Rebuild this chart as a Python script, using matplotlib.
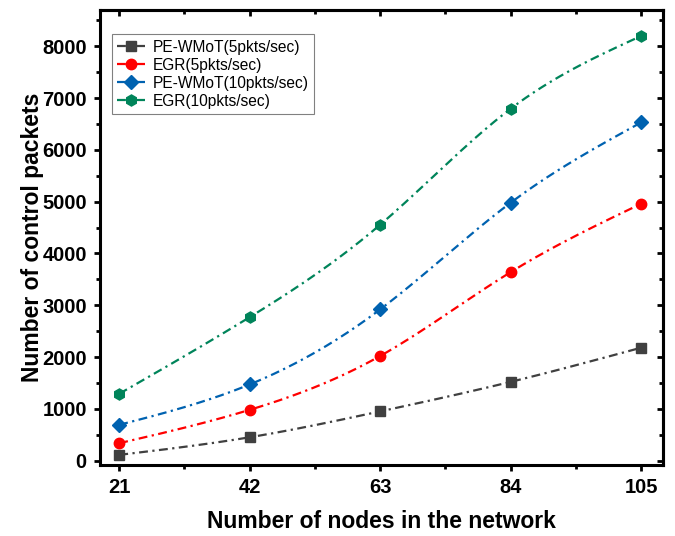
import numpy as np
import matplotlib.pyplot as plt
from matplotlib.ticker import MultipleLocator

plt.rcParams['font.family'] = ['Liberation Sans', 'DejaVu Sans']

nodes = [21, 42, 63, 84, 105]
pe_5 = [110, 450, 950, 1520, 2180]
egr_5 = [335, 980, 2020, 3640, 4960]
pe_10 = [690, 1470, 2920, 4980, 6530]
egr_10 = [1290, 2770, 4555, 6795, 8200]


def spline(x, y, n=200):
    # natural cubic spline, only used to draw the smooth connecting line
    x = np.asarray(x, float)
    y = np.asarray(y, float)
    k = len(x)
    h = np.diff(x)
    A = np.zeros((k, k))
    b = np.zeros(k)
    A[0, 0] = A[-1, -1] = 1
    for i in range(1, k - 1):
        A[i, i - 1] = h[i - 1]
        A[i, i] = 2 * (h[i - 1] + h[i])
        A[i, i + 1] = h[i]
        b[i] = 6 * ((y[i + 1] - y[i]) / h[i] - (y[i] - y[i - 1]) / h[i - 1])
    M = np.linalg.solve(A, b)
    xs = np.linspace(x[0], x[-1], n)
    idx = np.clip(np.searchsorted(x, xs) - 1, 0, k - 2)
    x0, x1 = x[idx], x[idx + 1]
    hh = x1 - x0
    t0, t1 = x1 - xs, xs - x0
    ys = (M[idx] * t0**3 + M[idx + 1] * t1**3) / (6 * hh) \
        + (y[idx] / hh - M[idx] * hh / 6) * t0 \
        + (y[idx + 1] / hh - M[idx + 1] * hh / 6) * t1
    return xs, ys


fig = plt.figure(figsize=(6.75, 5.36), dpi=100)
ax = fig.add_axes([0.1481, 0.1325, 0.8341, 0.8488])

series = [
    (pe_5, 'PE-WMoT(5pkts/sec)', '#404040', 's', 7),
    (egr_5, 'EGR(5pkts/sec)', '#ff0000', 'o', 7.5),
    (pe_10, 'PE-WMoT(10pkts/sec)', '#0062b0', 'D', 7),
    (egr_10, 'EGR(10pkts/sec)', '#00845a', 'h', 8),
]
ls = (0, (4, 2, 1, 2))
for vals, lab, col, mk, ms in series:
    xs, ys = spline(nodes, vals)
    ax.plot(xs, ys, color=col, ls=ls, lw=1.6)
    ax.plot(nodes, vals, ls='none', marker=mk, ms=ms, color=col, mec=col)
    ax.plot([], [], color=col, ls=ls, lw=1.6, marker=mk, ms=ms, label=lab)

ax.set_xlim(17.9, 108.5)
ax.set_ylim(-85, 8700)
ax.set_xticks(nodes)
ax.xaxis.set_minor_locator(MultipleLocator(10.5))
ax.yaxis.set_major_locator(MultipleLocator(1000))
ax.yaxis.set_minor_locator(MultipleLocator(500))

for s in ax.spines.values():
    s.set_linewidth(2.2)
ax.tick_params(which='major', direction='out', length=4.5, width=2, labelsize=14.5, pad=5)
ax.tick_params(which='minor', direction='out', length=3, width=2)
for t in ax.get_xticklabels() + ax.get_yticklabels():
    t.set_fontweight('bold')

top = ax.secondary_xaxis('top')
top.set_xticks(nodes)
top.xaxis.set_minor_locator(MultipleLocator(10.5))
top.tick_params(which='major', direction='in', length=4.5, width=2, labeltop=False)
top.tick_params(which='minor', direction='in', length=3, width=2)
right = ax.secondary_yaxis('right')
right.yaxis.set_major_locator(MultipleLocator(1000))
right.yaxis.set_minor_locator(MultipleLocator(500))
right.tick_params(which='major', direction='in', length=4.5, width=2, labelright=False)
right.tick_params(which='minor', direction='in', length=3, width=2)
top.spines['top'].set_linewidth(2.2)
right.spines['right'].set_linewidth(2.2)

ax.set_xlabel('Number of nodes in the network', fontsize=16.5, fontweight='bold', labelpad=9)
ax.set_ylabel('Number of control packets', fontsize=16.5, fontweight='bold', labelpad=-1)

leg = ax.legend(loc='upper left', bbox_to_anchor=(0.021, 0.947), fontsize=11.2,
                fancybox=False, edgecolor='#808080', framealpha=1,
                handlelength=1.8, handletextpad=0.5, borderpad=0.35, labelspacing=0.2,
                borderaxespad=0)
leg.get_frame().set_linewidth(0.8)

plt.savefig('out.png', dpi=100)
